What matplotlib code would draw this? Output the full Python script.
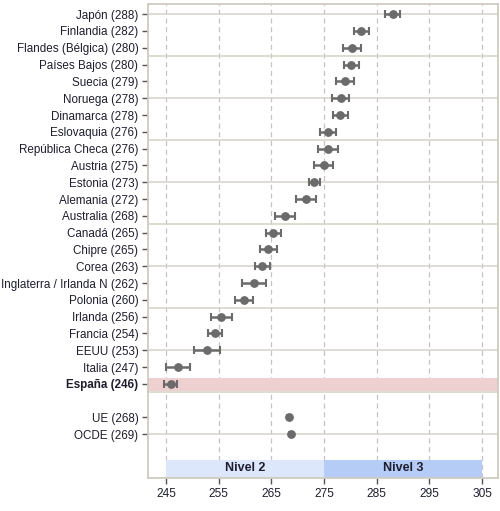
import matplotlib.pyplot as plt
import numpy as np

plt.rcParams['font.family'] = ['Liberation Sans', 'DejaVu Sans']

# Datos
paises = ["Japón (288)", "Finlandia (282)", "Flandes (Bélgica) (280)", "Países Bajos (280)",
          "Suecia (279)", "Noruega (278)", "Dinamarca (278)", "Eslovaquia (276)",
          "República Checa (276)", "Austria (275)", "Estonia (273)", "Alemania (272)",
          "Australia (268)", "Canadá (265)", "Chipre (265)", "Corea (263)",
          "Inglaterra / Irlanda N (262)", "Polonia (260)", "Irlanda (256)", "Francia (254)",
          "EEUU (253)", "Italia (247)", "España (246)"]
media = [288.0, 282.1, 280.3, 280.2, 278.9, 278.2, 278.1, 275.8, 275.7, 274.9, 273.1,
         271.6, 267.6, 265.4, 264.4, 263.3, 261.7, 259.8, 255.5, 254.3, 252.8, 247.3, 245.9]
error = [1.5, 1.4, 1.7, 1.4, 1.7, 1.6, 1.4, 1.5, 1.9, 1.8, 1.05,
         1.95, 1.9, 1.4, 1.6, 1.45, 2.2, 1.7, 2.0, 1.3, 2.4, 2.2, 1.25]
medias_ref = ["UE (268)", "OCDE (269)"]
media_ref = [268.3, 268.7]
error_ref = [0.3, 0.3]
niveles = ["Nivel 2", "Nivel 3"]
niveles_ini = [245, 275]
niveles_fin = [275, 305]
xticks = [245, 255, 265, 275, 285, 295, 305]

gris = '#6B6B6B'
texto = '#1E1E2E'

fig = plt.figure(figsize=(5.0, 5.11), dpi=100)
ax = fig.add_axes([0.296, 0.0646, 0.70, 0.9274])

n = len(paises)
y_paises = 27 - np.arange(n)
y_ref = np.array([3, 2])

ax.set_xlim(241.6, 308.0)
ax.set_ylim(-0.6, 27.6)

# rejilla
for xv in xticks:
    ax.axvline(xv, color='#C4C4C4', lw=0.9, ls=(0, (4, 3)), zorder=0)
for yv in np.arange(2, 28, 2.5):
    ax.axhline(yv, color='#D6D2C6', lw=1.1, zorder=0)

# banda España
ax.axhspan(4.6, 5.35, color='#EFD0D0', zorder=1, lw=0)

# niveles
colores_nivel = ['#DCE7FB', '#B5CCF6']
for nom, x0, x1, c in zip(niveles, niveles_ini, niveles_fin, colores_nivel):
    ax.fill_between([x0, x1], -0.6, 0.5, color=c, lw=0, zorder=1)
    ax.text((x0 + x1) / 2, -0.02, nom, ha='center', va='center', fontsize=9,
            fontweight='bold', color=texto, zorder=3)

ax.errorbar(media, y_paises, xerr=error, fmt='o', color=gris, ecolor=gris,
            elinewidth=1.8, capsize=3.0, capthick=1.5, markersize=5.3, zorder=4)
ax.errorbar(media_ref, y_ref, xerr=error_ref, fmt='o', color=gris, ecolor=gris,
            elinewidth=1.8, capsize=2.3, capthick=1.5, markersize=5.3, zorder=4)

ax.set_yticks(list(y_paises) + list(y_ref))
ax.set_yticklabels(paises + medias_ref, fontsize=8.4, color=texto)
for lbl in ax.get_yticklabels():
    if lbl.get_text().startswith('España'):
        lbl.set_fontweight('bold')

ax.set_xticks(xticks)
ax.set_xticklabels([str(v) for v in xticks], fontsize=8.6, color=texto)
ax.tick_params(axis='both', direction='out', length=4, width=1, color='#555555', pad=3)

for s in ax.spines.values():
    s.set_color('#CFCBC0')
    s.set_linewidth(1.3)

fig.savefig('out.png', dpi=100)
